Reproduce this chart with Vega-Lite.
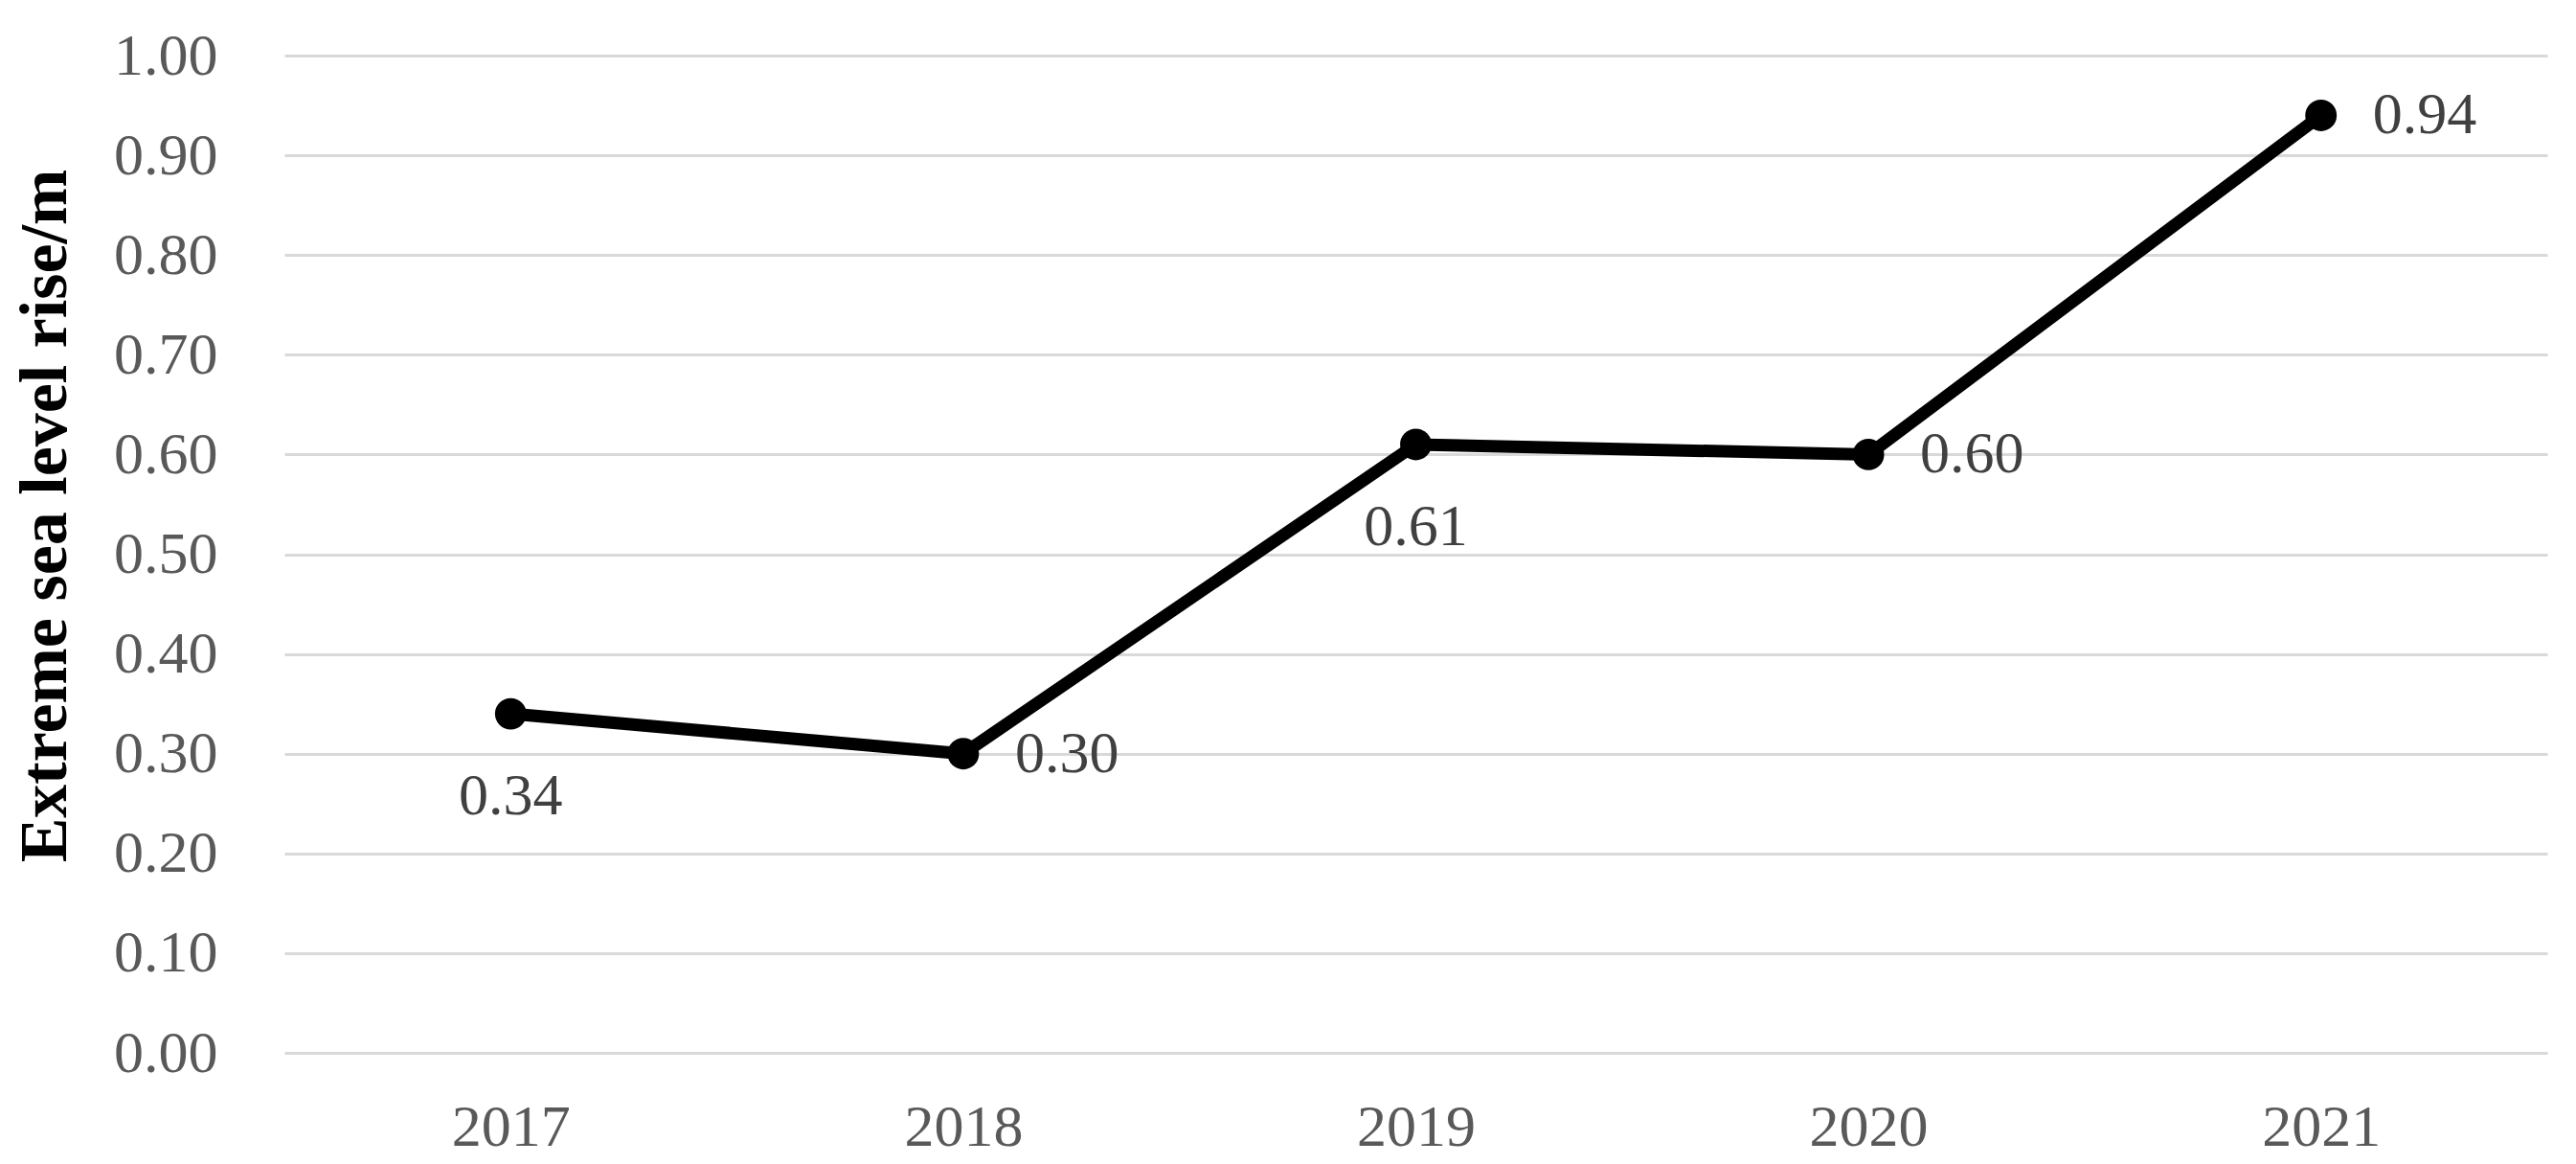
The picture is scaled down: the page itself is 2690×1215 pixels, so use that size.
{
  "$schema": "https://vega.github.io/schema/vega-lite/v6.json",
  "autosize": {"type": "none"},
  "padding": {"left": 297, "top": 58, "right": 30, "bottom": 116},
  "width": 2363,
  "height": 1041,
  "background": "white",
  "config": {
    "view": {"stroke": null},
    "font": "Liberation Serif"
  },
  "data": {
    "values": [
      {"year": "2017", "value": 0.34},
      {"year": "2018", "value": 0.30},
      {"year": "2019", "value": 0.61},
      {"year": "2020", "value": 0.60},
      {"year": "2021", "value": 0.94}
    ]
  },
  "encoding": {
    "x": {
      "field": "year", "type": "ordinal",
      "scale": {"type": "point", "padding": 0.5},
      "axis": {
        "title": null, "labelAngle": 0, "domain": false, "ticks": false, "tickSize": 0, "grid": false,
        "labelFont": "Liberation Serif", "labelFontSize": 62, "labelColor": "#595959",
        "labelBaseline": "alphabetic", "labelPadding": 96
      }
    },
    "y": {
      "field": "value", "type": "quantitative",
      "scale": {"domain": [0, 1], "nice": false, "zero": true},
      "axis": {
        "title": "Extreme sea level rise/m",
        "titleFont": "Liberation Serif", "titleFontSize": 70, "titleFontWeight": "bold", "titleColor": "#000000",
        "titleAngle": -90, "titleBaseline": "alphabetic", "titleAlign": "center",
        "titleX": -229, "titleY": 480,
        "values": [0, 0.1, 0.2, 0.3, 0.4, 0.5, 0.6, 0.7, 0.8, 0.9, 1.0],
        "format": ".2f",
        "domain": false, "ticks": false, "tickSize": 0,
        "grid": true, "gridColor": "#d9d9d9", "gridWidth": 3,
        "labelFont": "Liberation Serif", "labelFontSize": 62, "labelColor": "#595959",
        "labelPadding": 70, "labelBaseline": "middle"
      }
    }
  },
  "layer": [
    {"mark": {"type": "line", "color": "#000000", "strokeWidth": 13}},
    {"mark": {"type": "point", "filled": true, "color": "#000000", "opacity": 1, "size": 1080}},
    {
      "transform": [{"filter": "datum.year == '2017' || datum.year == '2019'"}],
      "mark": {"type": "text", "font": "Liberation Serif", "fontSize": 62, "color": "#404040", "align": "center", "baseline": "alphabetic", "dy": 105},
      "encoding": {"text": {"field": "value", "type": "quantitative", "format": ".2f"}}
    },
    {
      "transform": [{"filter": "datum.year != '2017' && datum.year != '2019'"}],
      "mark": {"type": "text", "font": "Liberation Serif", "fontSize": 62, "color": "#404040", "align": "left", "baseline": "middle", "dx": 54},
      "encoding": {"text": {"field": "value", "type": "quantitative", "format": ".2f"}}
    }
  ]
}
